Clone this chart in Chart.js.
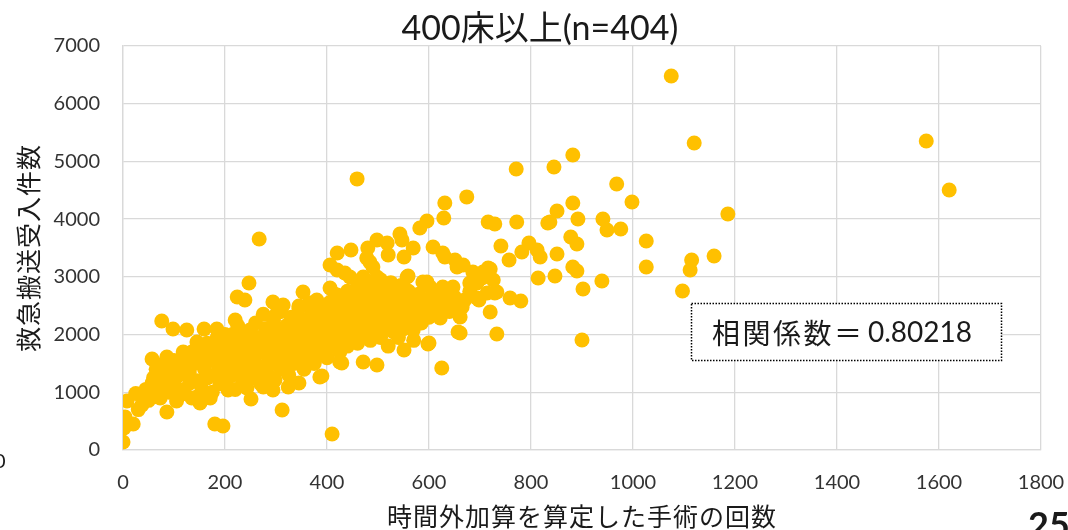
<!DOCTYPE html>
<html>
<head>
<meta charset="utf-8">
<script src="https://cdn.jsdelivr.net/npm/chart.js@4.4.1/dist/chart.umd.min.js"></script>
<style>
  html, body { margin: 0; padding: 0; background: #ffffff; }
  canvas { display: block; }
</style>
</head>
<body>
<canvas id="chart" width="1068" height="530"></canvas>
<script>
// Hospitals with 400+ beds: overtime-surcharged operations (x) vs. accepted ambulance transports (y)
const surgeryCounts = [
  1075, 1120, 1575, 1620, 1186, 1115, 1112, 1159, 1097, 882,
  845, 968, 998, 882, 851, 837, 892, 941, 949, 976,
  878, 890, 1026, 851, 882, 890, 847, 1026, 939, 902,
  900, 771, 674, 631, 629, 716, 729, 772, 833, 741,
  757, 782, 796, 812, 818, 814, 661, 733, 625, 631,
  651, 667, 706, 720, 686, 726, 694, 647, 627, 729,
  759, 780, 698, 661, 637, 720, 661, 622, 459, 596,
  582, 543, 600, 406, 420, 447, 480, 498, 518, 569,
  551, 520, 478, 490, 435, 608, 627, 655, 716, 559,
  596, 602, 680, 704, 733, 714, 694, 608, 641, 665,
  573, 569, 420, 445, 471, 498, 547, 484, 557, 588,
  353, 406, 657, 598, 551, 498, 471, 429, 390, 345,
  324, 318, 0, 2, 4, 20, 8, 43, 37, 73,
  86, 180, 196, 251, 312, 247, 224, 239, 76, 98,
  125, 159, 220, 145, 118, 57, 86, 294, 302, 314,
  57, 131, 151, 171, 275, 294, 410, 386, 59, 112,
  145, 206, 243, 298, 425, 267, 184, 249, 308, 345,
  371, 390, 420, 25, 30, 45, 50, 60, 65, 70,
  75, 80, 85, 90, 95, 100, 100, 105, 110, 115,
  120, 125, 130, 135, 140, 145, 150, 155, 160, 165,
  165, 170, 175, 175, 180, 185, 185, 190, 190, 195,
  195, 200, 200, 200, 205, 205, 210, 210, 215, 215,
  220, 220, 225, 225, 230, 230, 235, 235, 240, 240,
  245, 250, 250, 255, 255, 260, 260, 265, 265, 270,
  270, 275, 275, 280, 280, 285, 285, 290, 290, 295,
  300, 300, 305, 305, 310, 310, 315, 315, 320, 320,
  325, 325, 330, 330, 335, 335, 340, 340, 345, 345,
  350, 350, 355, 355, 360, 360, 365, 365, 370, 370,
  375, 375, 380, 380, 385, 385, 390, 390, 395, 395,
  400, 400, 405, 405, 410, 410, 415, 415, 420, 425,
  425, 430, 430, 435, 435, 440, 440, 445, 445, 450,
  450, 455, 455, 460, 460, 465, 465, 470, 470, 475,
  480, 480, 485, 485, 490, 490, 495, 495, 500, 500,
  505, 505, 510, 510, 515, 515, 520, 520, 525, 525,
  530, 530, 535, 535, 540, 540, 545, 545, 550, 550,
  555, 560, 560, 565, 570, 575, 580, 585, 590, 595,
  600, 610, 620, 630, 640, 650, 670, 680, 135, 160,
  180, 200, 215, 240, 250, 260, 280, 290, 300, 310,
  320, 335, 350, 360, 370, 380, 395, 410, 420, 430,
  450, 465, 475, 490, 500, 510, 530, 545, 555, 460
];

const ambulanceCounts = [
  6480, 5320, 5355, 4506, 4090, 3293, 3120, 3362, 2755, 5112,
  4904, 4610, 4298, 4280, 4142, 3951, 4003, 4003, 3813, 3830,
  3691, 3570, 3622, 3397, 3171, 3102, 3015, 3171, 2929, 2790,
  1906, 4870, 4385, 4280, 4020, 3951, 3917, 3951, 3934, 3535,
  3293, 3431, 3587, 3466, 3345, 2981, 2028, 2010, 1421, 3345,
  3293, 3206, 3085, 3137, 3085, 2946, 2894, 2825, 2825, 2721,
  2634, 2582, 2600, 2548, 2548, 2392, 2305, 2288, 4697, 3969,
  3847, 3743, 1854, 3206, 3414, 3466, 3500, 3639, 3587, 3500,
  3345, 3380, 3327, 3171, 3067, 3518, 3414, 3171, 3154, 3015,
  2911, 2825, 2894, 2981, 2738, 2721, 2634, 2444, 2548, 2478,
  2340, 2080, 3119, 2998, 2998, 2998, 3639, 3258, 2998, 2911,
  2738, 2807, 2045, 1837, 1733, 1473, 1525, 1508, 1282, 1161,
  1092, 1438, 139, 381, 572, 450, 849, 988, 780, 901,
  659, 450, 416, 884, 693, 2894, 2651, 2600, 2236, 2097,
  2080, 2097, 2253, 1872, 1698, 1577, 1612, 2565, 2374, 2513,
  1161, 1161, 814, 901, 1092, 1040, 277, 1265, 918, 953,
  918, 1040, 1075, 1213, 1525, 3657, 2097, 2080, 2461, 2496,
  2478, 2478, 2686, 980, 700, 1050, 860, 1250, 1400, 1100,
  1320, 1500, 1200, 1000, 1380, 1150, 1550, 850, 1300, 1450,
  1050, 1600, 1350, 900, 1500, 1200, 1700, 1050, 1400, 1850,
  1250, 1550, 1000, 1750, 1300, 1950, 1500, 1150, 1650, 1400,
  1850, 1250, 1550, 2000, 1100, 1700, 1450, 1900, 1300, 1600,
  1050, 1800, 1500, 2150, 1350, 1700, 1200, 1950, 1550, 1850,
  1400, 1650, 2050, 1250, 1800, 1500, 2200, 1350, 1950, 1700,
  1150, 1850, 2350, 1450, 2100, 1600, 1300, 1950, 1750, 2250,
  1500, 1850, 1650, 2050, 1400, 2400, 1800, 1950, 1600, 2150,
  1300, 1750, 2000, 2300, 1500, 1900, 1700, 2100, 2450, 1850,
  1550, 2000, 2250, 1400, 1800, 2150, 1650, 2550, 1950, 2350,
  1500, 2100, 1750, 2600, 1900, 2250, 1650, 2050, 2400, 1850,
  2150, 1600, 2000, 2550, 1800, 2300, 2700, 1950, 2150, 1700,
  2450, 1900, 2600, 2050, 2300, 1800, 2750, 2200, 2500, 1950,
  2650, 2350, 2100, 2850, 1850, 2550, 2250, 2000, 2700, 2400,
  2150, 2900, 1900, 2600, 2300, 2800, 2050, 2450, 2700, 2200,
  1950, 2950, 2500, 2350, 2100, 2750, 2600, 1800, 2300, 2900,
  2050, 2450, 2700, 2200, 2550, 1950, 2850, 2350, 2100, 2650,
  2450, 2250, 2750, 2600, 1900, 2500, 2700, 2200, 2400, 2600,
  2300, 2650, 2500, 2700, 2400, 2650, 2600, 2750, 1700, 1600,
  1800, 1450, 2000, 1700, 1450, 1900, 1750, 1550, 2100, 1700,
  1900, 2250, 1800, 2000, 1700, 2200, 2000, 2100, 2400, 2200,
  2400, 2050, 2600, 2550, 2400, 2150, 2650, 2550, 2350, 2500
];

const xTicks = [0, 200, 400, 600, 800, 1000, 1200, 1400, 1600, 1800];
const yTicks = [0, 1000, 2000, 3000, 4000, 5000, 6000, 7000];

const chartTitle = '400床以上(n=404)';
const xAxisTitle = '時間外加算を算定した手術の回数';
const yAxisTitle = '救急搬送受入件数';
const correlationLabel = '相関係数＝';
const correlationValue = '0.80218';
const pageNumber = '25';

const LATIN = "Lato, 'Noto Sans CJK JP', sans-serif";
const CJK = "'Noto Sans CJK JP', Lato, sans-serif";
const TEXT = '#1a1a1a';
const GRID = '#d9d9d9';

const points = surgeryCounts.map((x, i) => ({ x: x, y: ambulanceCounts[i] }));

// Title, axis titles, correlation note and page furniture
const overlayText = {
  id: 'overlayText',
  afterDraw(chart) {
    const { ctx, chartArea: a } = chart;
    const spacing = v => { if ('letterSpacing' in ctx) ctx.letterSpacing = v; };
    ctx.save();
    ctx.fillStyle = TEXT;
    ctx.textBaseline = 'middle';

    ctx.textAlign = 'center';
    ctx.font = '34px ' + LATIN;
    ctx.fillText(chartTitle, 540, 29);

    ctx.font = '25px ' + CJK;
    spacing('1px');
    ctx.fillText(xAxisTitle, (a.left + a.right) / 2, 516);

    ctx.save();
    ctx.translate(28, (a.top + a.bottom) / 2);
    ctx.rotate(-Math.PI / 2);
    ctx.fillText(yAxisTitle, 0, 0);
    ctx.restore();
    spacing('0px');

    // correlation coefficient box
    ctx.fillStyle = '#ffffff';
    ctx.fillRect(692, 304, 309, 56);
    ctx.strokeStyle = '#000000';
    ctx.lineWidth = 1.5;
    ctx.setLineDash([1.5, 1.5]);
    ctx.strokeRect(691.5, 303.5, 310, 57);
    ctx.setLineDash([]);

    ctx.fillStyle = TEXT;
    ctx.textAlign = 'left';
    ctx.font = '28px ' + CJK;
    spacing('2.5px');
    ctx.fillText(correlationLabel, 712, 333);
    spacing('0px');
    ctx.font = '28px ' + LATIN;
    ctx.fillText(correlationValue, 868, 333);

    // neighbouring slide elements
    ctx.font = '20px ' + LATIN;
    ctx.fillText('0', -6, 462);
    ctx.font = 'bold 36px ' + LATIN;
    ctx.textBaseline = 'top';
    ctx.fillText(pageNumber, 1028, 508);
    ctx.restore();
  }
};

const plainNumber = v => String(v);

new Chart(document.getElementById('chart'), {
  type: 'scatter',
  data: {
    datasets: [{
      data: points,
      backgroundColor: '#FFC000',
      borderWidth: 0,
      pointRadius: 7.5,
      pointHoverRadius: 7.5
    }]
  },
  options: {
    responsive: false,
    animation: false,
    events: [],
    layout: { padding: { top: 46, right: 27, bottom: 0, left: 0 } },
    plugins: {
      legend: { display: false },
      tooltip: { enabled: false },
      title: { display: false }
    },
    scales: {
      x: {
        type: 'linear',
        min: xTicks[0],
        max: xTicks[xTicks.length - 1],
        afterBuildTicks: s => { s.ticks = xTicks.map(v => ({ value: v })); },
        afterFit: s => { s.height = 80; s.paddingLeft = 0; s.paddingRight = 0; },
        grid: { color: GRID, lineWidth: 1.3, drawTicks: false },
        border: { color: GRID, width: 1.3 },
        ticks: { padding: 21, autoSkip: false, maxRotation: 0, color: '#333333', callback: plainNumber, font: { family: LATIN, size: 20 } }
      },
      y: {
        type: 'linear',
        min: yTicks[0],
        max: yTicks[yTicks.length - 1],
        afterBuildTicks: s => { s.ticks = yTicks.map(v => ({ value: v })); },
        afterFit: s => { s.width = 123; s.paddingTop = 0; s.paddingBottom = 0; },
        grid: { color: GRID, lineWidth: 1.3, drawTicks: false },
        border: { color: GRID, width: 1.3 },
        ticks: { padding: 23, autoSkip: false, color: '#333333', callback: plainNumber, font: { family: LATIN, size: 20 } }
      }
    }
  },
  plugins: [overlayText]
});
</script>
</body>
</html>
